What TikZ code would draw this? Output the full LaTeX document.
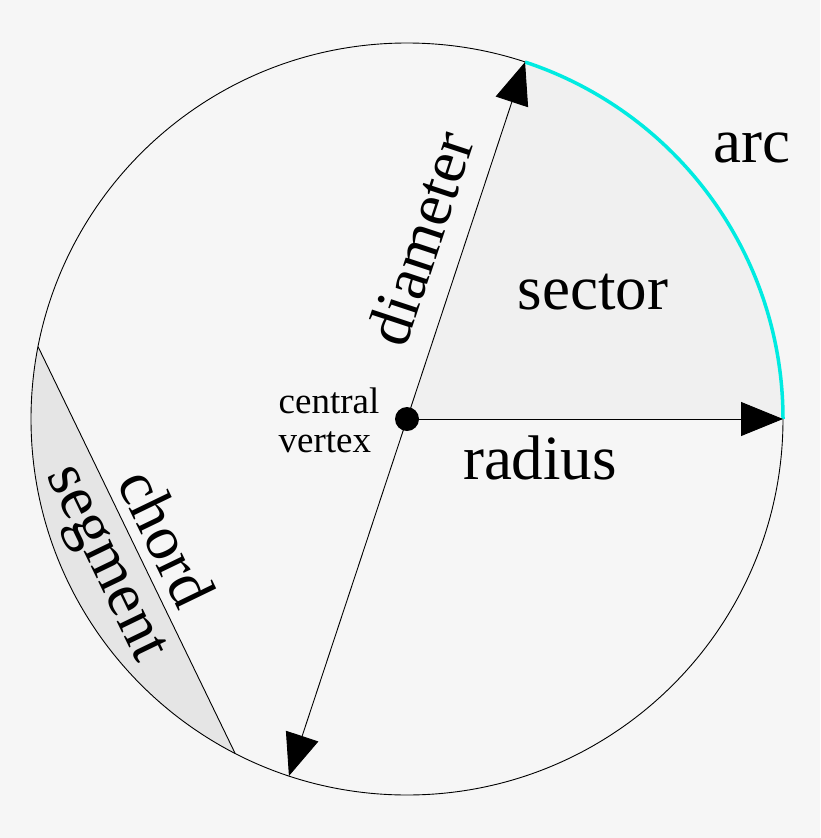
\documentclass[tikz,border=0pt]{standalone}
\usepackage{fontspec}
\setmainfont{Liberation Serif}
\usetikzlibrary{arrows.meta}
\definecolor{arccol}{RGB}{0,235,225}
\begin{document}
\begin{tikzpicture}[x=1pt,y=-1pt,
  big/.style={font=\fontsize{63}{63}\selectfont,inner sep=0pt},
  small/.style={font=\fontsize{37}{39}\selectfont,align=left},
  tip/.style={-{Triangle[length=42pt,width=34pt]}},
  thin line/.style={line width=0.9pt}]
\fill[white!96.5!black] (0,0) rectangle (820,838);
\useasboundingbox (0,0) rectangle (820,838);
\coordinate (c) at (407,419);
\def\R{376}
\fill[white!94!black] (c) -- ++(0:\R) arc[start angle=0,end angle=-71.7,radius=\R] -- cycle;
\fill[white!90!black] (c) ++(-168.9:\R) coordinate (ch1) arc[start angle=-168.9,end angle=-242.8,radius=\R] coordinate (ch2) -- cycle;
\draw[thin line] (c) circle[radius=\R];
\draw[arccol, line width=3.5pt] (c) ++(0:\R) arc[start angle=0,end angle=-71.7,radius=\R];
\draw[thin line] (ch1) -- (ch2);
\path (c) ++(-71.7:\R) coordinate (top);
\path (c) ++(-251.7:\R) coordinate (bot);
\path (c) ++(0:\R) coordinate (rt);
\draw[thin line,tip] (c) -- (rt);
\draw[thin line,tip] (c) -- (top);
\draw[thin line,tip] (c) -- (bot);
\fill (c) circle[radius=12];
\node[big] (arc) at (752,148) {arc};
\node[big] (sector) at (593,292) {sector};
\node[big] (radius) at (540,458) {radius};
\node[big,rotate=71.7] (diam) at (420,238) {diameter};
\node[big,rotate=-64.2] (chord) at (167,538) {chord};
\node[big,rotate=-64.2] (seg) at (102,565) {segment};
\node[small] (cv) at (329,420) {central\\vertex};
\end{tikzpicture}
\end{document}
